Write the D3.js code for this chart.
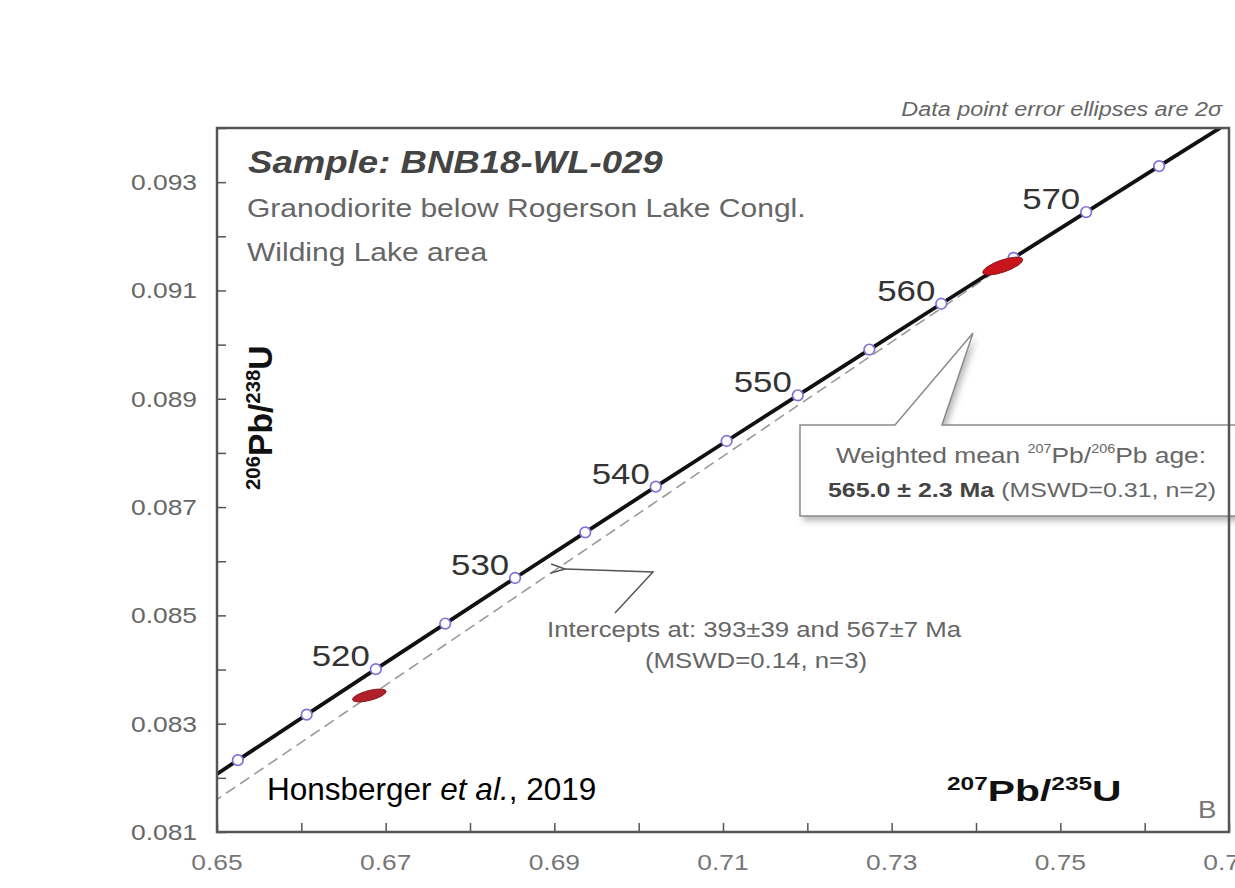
<!DOCTYPE html>
<html>
<head>
<meta charset="utf-8">
<script src="https://cdn.jsdelivr.net/npm/d3@7"></script>
<style>
  body { margin: 0; background: #fff; }
  svg { display: block; font-family: "Liberation Sans", Arial, sans-serif; }
</style>
</head>
<body>
<div id="chart"></div>
<script>
// concordia age marks (Ma) and their isotope ratios
var ages   = [505, 510, 515, 520, 525, 530, 535, 540, 545, 550, 555, 560, 565, 570, 575, 580]
var concX  = [0.644341, 0.652474, 0.660632, 0.668829, 0.677066, 0.685346, 0.693666, 0.702026,
              0.710428, 0.718871, 0.727355, 0.735881, 0.744450, 0.753063, 0.761716, 0.770411]
var concY  = [0.081488, 0.082327, 0.083167, 0.084007, 0.084849, 0.085690, 0.086533, 0.087376,
              0.088220, 0.089064, 0.089909, 0.090755, 0.091601, 0.092448, 0.093296, 0.094144]
var labelAges = [520, 530, 540, 550, 560, 570]

// discordia: lower and upper intercepts (393 and 567 Ma)
var discX = [0.472575, 0.747892]
var discY = [0.062861, 0.091940]

// analyses (2 sigma)
var ellX   = [0.66806, 0.74317]
var ellY   = [0.083521, 0.091451]
var ellSX  = [0.00200, 0.00236]
var ellSY  = [0.000120, 0.000165]
var ellRho = [0.62, 0.70]

var xTicks = [0.65, 0.67, 0.69, 0.71, 0.73, 0.75, 0.77]
var yTicks = [0.081, 0.083, 0.085, 0.087, 0.089, 0.091, 0.093]

var svgSize = { width: 1235, height: 888 }
var margin = { top: 128, bottom: 56, left: 217, right: 6 }
var SX = 1.2   // the original figure is stretched sideways

var svg = d3.select("#chart").append("svg")
    .attr("width", svgSize.width)
    .attr("height", svgSize.height)

var xScale = d3.scaleLinear().domain([0.65, 0.77])
    .range([margin.left, svgSize.width - margin.right])
var yScale = d3.scaleLinear().domain([0.081, 0.094])
    .range([svgSize.height - margin.bottom, margin.top])

var x0 = xScale.range()[0], x1 = xScale.range()[1]
var y0 = yScale.range()[0], y1 = yScale.range()[1]

var defs = svg.append("defs")
defs.append("clipPath").attr("id", "plot")
    .append("rect").attr("x", x0).attr("y", y1).attr("width", x1 - x0).attr("height", y0 - y1)
defs.append("filter").attr("id", "shadow").attr("x", "-10%").attr("y", "-10%").attr("width", "130%").attr("height", "140%")
    .append("feGaussianBlur").attr("stdDeviation", 3)
defs.append("marker").attr("id", "arrow").attr("viewBox", "0 0 16 12")
    .attr("refX", 1).attr("refY", 6).attr("markerWidth", 16).attr("markerHeight", 12)
    .attr("markerUnits", "userSpaceOnUse").attr("orient", "auto-start-reverse")
    .append("path").attr("d", "M15,1.5 L1,6 L15,10.5").attr("fill", "none")
    .attr("stroke", "#555").attr("stroke-width", 1.5)

function label(x, y, size, opts) {
    opts = opts || {}
    return svg.append("text")
        .attr("transform", `translate(${x},${y}) scale(${opts.sx || SX},1)`)
        .attr("font-size", size)
        .attr("fill", opts.fill || "#555")
        .attr("text-anchor", opts.anchor || "start")
        .attr("font-weight", opts.weight || "normal")
        .attr("font-style", opts.style || "normal")
}

// axes
var bottomAxis = d3.axisBottom(xScale).tickValues(d3.range(0.65, 0.7701, 0.01)).tickSize(-9).tickFormat("")
var leftAxis = d3.axisLeft(yScale).tickValues(d3.range(0.081, 0.09401, 0.001)).tickSize(-9).tickFormat("")
svg.append("g").attr("transform", `translate(0,${y0})`).call(bottomAxis)
    .call(g => g.select(".domain").remove())
    .selectAll("line").attr("stroke", "#555").attr("stroke-width", 1.5)
svg.append("g").attr("transform", `translate(${x0},0)`).call(leftAxis)
    .call(g => g.select(".domain").remove())
    .selectAll("line").attr("stroke", "#555").attr("stroke-width", 1.5)

xTicks.forEach(v => {
    label(xScale(v), y0 + 38, 22, { anchor: "middle", fill: "#777" }).text(v.toFixed(2))
})
yTicks.forEach(v => {
    label(x0 - 20, yScale(v) + 8, 22, { anchor: "end", fill: "#666" }).text(v.toFixed(3))
})

var plot = svg.append("g").attr("clip-path", "url(#plot)")

// discordia
plot.append("line")
    .attr("x1", xScale(discX[0])).attr("y1", yScale(discY[0]))
    .attr("x2", xScale(discX[1])).attr("y2", yScale(discY[1]))
    .attr("stroke", "#9a9a9a").attr("stroke-width", 1.6).attr("stroke-dasharray", "11,6")

// concordia
var concordia = d3.line().x(d => xScale(d[0])).y(d => yScale(d[1])).curve(d3.curveCatmullRom)
plot.append("path")
    .datum(concX.map((v, i) => [v, concY[i]]))
    .attr("d", concordia)
    .attr("fill", "none").attr("stroke", "#111").attr("stroke-width", 3.8)

var marks = ages.map((a, i) => ({ age: a, x: concX[i], y: concY[i] })).filter(d => d.age > 505 && d.age < 580)
plot.selectAll("circle.mark").data(marks).enter().append("circle")
    .attr("class", "mark")
    .attr("cx", d => xScale(d.x)).attr("cy", d => yScale(d.y))
    .attr("r", 5.3).attr("fill", "#fff").attr("stroke", "#8372d6").attr("stroke-width", 1.7)

// error ellipses, shaped in pixel space from the 2 sigma errors
ellX.forEach((v, i) => {
    var sx = xScale(v + ellSX[i]) - xScale(v)
    var sy = yScale(ellY[i]) - yScale(ellY[i] + ellSY[i])
    var a = sx * sx, d = sy * sy, b = -ellRho[i] * sx * sy
    var m = (a + d) / 2, h = Math.sqrt(((a - d) / 2) ** 2 + b * b)
    var ang = 0.5 * Math.atan2(2 * b, a - d) * 180 / Math.PI
    plot.append("ellipse")
        .attr("transform", `translate(${xScale(v)},${yScale(ellY[i])}) rotate(${ang})`)
        .attr("rx", Math.sqrt(m + h)).attr("ry", Math.sqrt(m - h))
        .attr("fill", i == 0 ? "#b1202a" : "#c8141c").attr("stroke", "#7d1016").attr("stroke-width", 0.8)
})

// age labels on concordia
marks.filter(d => labelAges.includes(d.age)).forEach(d => {
    label(xScale(d.x) - 6, yScale(d.y) - 3, 29, { anchor: "end", fill: "#333" }).text(d.age)
})

// intercept note with arrow
svg.append("path")
    .attr("d", "M615,613 L653,572 L565,569")
    .attr("fill", "none").attr("stroke", "#555").attr("stroke-width", 1.5)
    .attr("marker-end", "url(#arrow)")
label(754, 637, 21.5, { anchor: "middle", fill: "#666" }).text("Intercepts at: 393±39 and 567±7 Ma")
label(756, 668, 21.5, { anchor: "middle", fill: "#666" }).text("(MSWD=0.14, n=3)")

// weighted mean callout
var callout = "M800,425 L895,425 L973,333 L942,425 L1245,425 L1245,516 L800,516 Z"
svg.append("path").attr("d", callout).attr("transform", "translate(3,5)")
    .attr("fill", "#b8b8b8").attr("filter", "url(#shadow)")
svg.append("path").attr("d", callout)
    .attr("fill", "#fff").attr("stroke", "#8a8a8a").attr("stroke-width", 1.5)

var w1 = label(1021, 463, 22, { anchor: "middle", fill: "#666" })
w1.append("tspan").text("Weighted mean ")
w1.append("tspan").attr("font-size", 12).attr("dy", -10).text("207")
w1.append("tspan").attr("dy", 10).text("Pb/")
w1.append("tspan").attr("font-size", 12).attr("dy", -10).text("206")
w1.append("tspan").attr("dy", 10).text("Pb age:")
var w2 = label(1022, 497, 20.8, { anchor: "middle", fill: "#666" })
w2.append("tspan").attr("font-weight", "bold").attr("fill", "#444").text("565.0 ± 2.3 Ma")
w2.append("tspan").text(" (MSWD=0.31, n=2)")

// frame
svg.append("rect").attr("x", x0).attr("y", y1).attr("width", x1 - x0).attr("height", y0 - y1)
    .attr("fill", "none").attr("stroke", "#555").attr("stroke-width", 2.5)

// titles and notes
label(248, 173, 30.5, { fill: "#444", weight: "bold", style: "italic" }).text("Sample: BNB18-WL-029")
label(247, 217, 25, { fill: "#666" }).text("Granodiorite below Rogerson Lake Congl.")
label(247, 261, 25, { fill: "#666" }).text("Wilding Lake area")
label(1222, 116, 19.5, { anchor: "end", fill: "#666", style: "italic" }).text("Data point error ellipses are 2σ")
label(1198, 818, 23, { fill: "#777" }).text("B")

var xl = label(947, 801, 30, { fill: "#111", weight: "bold", sx: 1.36 })
xl.append("tspan").attr("font-size", 18).attr("dy", -11).text("207")
xl.append("tspan").attr("dy", 11).text("Pb/")
xl.append("tspan").attr("font-size", 18).attr("dy", -11).text("235")
xl.append("tspan").attr("dy", 11).text("U")

var yl = svg.append("text")
    .attr("transform", "translate(272,490) rotate(-90) scale(1.2,1.2)")
    .attr("font-size", 28).attr("font-weight", "bold").attr("fill", "#111")
yl.append("tspan").attr("font-size", 17).attr("dy", -10).text("206")
yl.append("tspan").attr("dy", 10).text("Pb/")
yl.append("tspan").attr("font-size", 17).attr("dy", -10).text("238")
yl.append("tspan").attr("dy", 10).text("U")

var cite = svg.append("text").attr("x", 267).attr("y", 800).attr("font-size", 31.5).attr("fill", "#000")
cite.append("tspan").text("Honsberger ")
cite.append("tspan").attr("font-style", "italic").text("et al.")
cite.append("tspan").text(", 2019")
</script>
</body>
</html>
